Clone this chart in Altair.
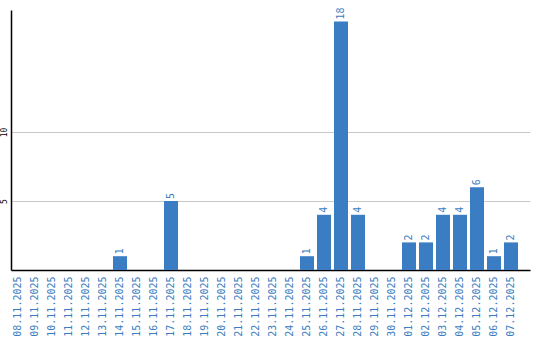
import altair as alt
import pandas as pd

dates = ["08.11.2025", "09.11.2025", "10.11.2025", "11.11.2025", "12.11.2025",
         "13.11.2025", "14.11.2025", "15.11.2025", "16.11.2025", "17.11.2025",
         "18.11.2025", "19.11.2025", "20.11.2025", "21.11.2025", "22.11.2025",
         "23.11.2025", "24.11.2025", "25.11.2025", "26.11.2025", "27.11.2025",
         "28.11.2025", "29.11.2025", "30.11.2025", "01.12.2025", "02.12.2025",
         "03.12.2025", "04.12.2025", "05.12.2025", "06.12.2025", "07.12.2025"]
counts = [0, 0, 0, 0, 0, 0, 1, 0, 0, 5,
          0, 0, 0, 0, 0, 0, 0, 1, 4, 18,
          4, 0, 0, 2, 2, 4, 4, 6, 1, 2]

df = pd.DataFrame({"date": dates, "count": counts})
df["label"] = df["count"].apply(lambda v: str(v) if v > 0 else "")

BLUE = "#3a7dc2"
FONT = "DejaVu Sans Mono"

x = alt.X("date:N", sort=dates, title=None,
          scale=alt.Scale(paddingInner=0.176, paddingOuter=0.353, align=0),
          axis=alt.Axis(labelAngle=270, labelColor=BLUE, labelFont=FONT,
                        labelFontSize=10, ticks=False, tickSize=0, labelPadding=6,
                        domainColor="#000000", domainWidth=1.5, grid=False,
                        labelAlign="right", labelBaseline="middle"))
y = alt.Y("count:Q", title=None,
          scale=alt.Scale(domain=[0, 18.84], nice=False),
          axis=alt.Axis(values=[5, 10], labelAngle=270, labelFont=FONT,
                        labelFontSize=8, labelColor="#000000", ticks=False,
                        tickSize=0, labelPadding=3, labelAlign="center",
                        labelBaseline="bottom", domainColor="#000000",
                        domainWidth=1.5, gridColor="#c8c8c8", gridWidth=1))

bars = alt.Chart(df).mark_bar(color=BLUE).encode(x=x, y=y)
text = alt.Chart(df).mark_text(angle=270, align="left", baseline="middle",
                               dx=2, font=FONT, fontSize=10, color=BLUE).encode(
    x=alt.X("date:N", sort=dates), y="count:Q", text="label:N")

chart = (bars + text).properties(
    width=519, height=260,
    autosize=alt.AutoSizeParams(type="none"),
    padding={"left": 11, "top": 10, "right": 10, "bottom": 70},
    background="white",
).configure_view(stroke=None, strokeWidth=0)

chart.save("out.html", embed_options={"renderer": "svg", "actions": False})
